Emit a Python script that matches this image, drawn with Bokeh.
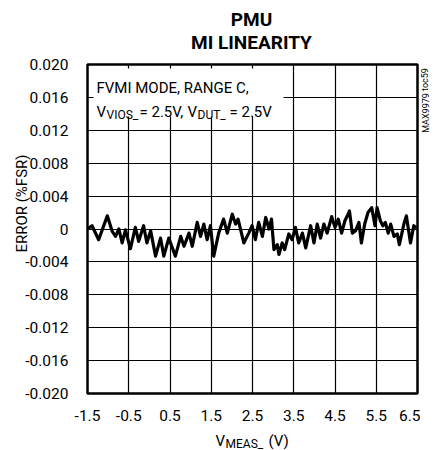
from bokeh.plotting import figure
from bokeh.models import FixedTicker, BoxAnnotation, Label, Title
from bokeh.layouts import column, row
from bokeh.embed import file_html
from bokeh.resources import INLINE

# ---- data ----
v_meas = [-1.50, -1.39, -1.23, -1.02, -0.90, -0.82, -0.74, -0.66, -0.58, -0.46,
          -0.34, -0.26, -0.14, -0.06, 0.03, 0.15, 0.27, 0.35, 0.47, 0.63,
          0.76, 0.84, 0.96, 1.04, 1.16, 1.24, 1.32, 1.40, 1.48, 1.56,
          1.68, 1.80, 1.89, 2.01, 2.09, 2.15, 2.29, 2.41, 2.49, 2.57,
          2.65, 2.74, 2.82, 2.90, 2.96, 3.02, 3.10, 3.14, 3.22, 3.28,
          3.38, 3.46, 3.54, 3.62, 3.71, 3.79, 3.91, 3.99, 4.07, 4.15,
          4.23, 4.31, 4.42, 4.50, 4.58, 4.66, 4.74, 4.80, 4.85, 4.92,
          5.00, 5.08, 5.14, 5.22, 5.30, 5.39, 5.47, 5.52, 5.60, 5.66,
          5.72, 5.79, 5.85, 5.93, 6.01, 6.06, 6.17, 6.23, 6.33, 6.41, 6.47]
error_fsr = [0.0000, 0.0004, -0.0013, 0.0016, -0.0003, -0.0009, 0.0000, -0.0017, -0.0001, -0.0024,
             0.0002, -0.0015, 0.0004, -0.0017, -0.0002, -0.0033, -0.0011, -0.0033, -0.0011, -0.0033,
             -0.0009, -0.0021, -0.0005, -0.0021, 0.0008, -0.0009, 0.0006, -0.0013, 0.0004, -0.0033,
             -0.0005, 0.0012, -0.0005, 0.0018, 0.0006, 0.0012, -0.0017, -0.0005, 0.0004, -0.0013,
             0.0008, -0.0009, 0.0014, 0.0000, 0.0012, -0.0025, -0.0019, -0.0031, -0.0017, -0.0025,
             -0.0006, -0.0013, 0.0002, -0.0017, -0.0005, -0.0023, 0.0004, -0.0017, 0.0006, -0.0011,
             0.0006, -0.0005, 0.0015, 0.0002, 0.0012, -0.0005, 0.0010, 0.0016, 0.0022, -0.0005,
             -0.0002, 0.0008, -0.0017, 0.0006, 0.0020, 0.0026, 0.0004, 0.0026, 0.0010, 0.0004,
             0.0008, -0.0005, 0.0006, -0.0009, -0.0006, -0.0019, 0.0006, 0.0016, -0.0017, 0.0004, 0.0001]

x_ticks = [-1.5, -0.5, 0.5, 1.5, 2.5, 3.5, 4.5, 5.5, 6.5]
y_ticks = [-0.020, -0.016, -0.012, -0.008, -0.004, 0.0, 0.004, 0.008, 0.012, 0.016, 0.020]
y_tick_labels = ["-0.020", "-0.016", "-0.012", "-0.008", "-0.004", "0",
                 "0.004", "0.008", "0.012", "0.016", "0.020"]

FONT = "Roboto"

TOTAL_H = 450
TOP_H, BOT_H = 54, 27
MAIN_H = TOTAL_H - TOP_H - BOT_H      # 369
MAIN_W, RIGHT_W = 420, 12
FL, FR = 87, 417                      # frame left / right (page px)
FT, FB = 64, 393                      # frame top / bottom (page px)
X0, X1, Y0, Y1 = -1.5, 6.5, -0.020, 0.020


def text_fig(w, h, left=0, right=0):
    f = figure(width=w, height=h, x_range=(0, w), y_range=(0, h),
               output_backend="svg", toolbar_location=None,
               x_axis_location=None, y_axis_location=None, min_border=0,
               min_border_left=left, min_border_right=right)
    f.grid.visible = False
    f.outline_line_color = None
    f.background_fill_color = "white"
    f.border_fill_color = "white"
    return f


def put(f, text, x, y, size, align="left", baseline="alphabetic", bold=False, angle=0):
    f.add_layout(Label(x=x, y=y, x_units="screen", y_units="screen",
                       text=text, text_font=FONT, text_font_size=size,
                       text_align=align, text_baseline=baseline,
                       text_font_style="bold" if bold else "normal",
                       text_color="black", angle=angle))


# ---------------- main plot ----------------
p = figure(width=MAIN_W, height=MAIN_H, x_range=(X0, X1), y_range=(Y0, Y1),
           output_backend="svg", toolbar_location=None,
           min_border_left=FL, min_border_right=MAIN_W - FR,
           min_border_top=FT - TOP_H, min_border_bottom=TOP_H + MAIN_H - FB)
p.background_fill_color = "white"
p.border_fill_color = "white"
p.outline_line_color = "black"
p.outline_line_width = 2.5

for ax in (p.xaxis[0], p.yaxis[0]):
    ax.axis_line_color = None
    ax.major_tick_line_color = None
    ax.minor_tick_line_color = None
    ax.major_label_text_font = FONT
    ax.major_label_text_font_size = "15.5px"
    ax.major_label_text_color = "black"

p.xaxis[0].ticker = FixedTicker(ticks=x_ticks)
p.yaxis[0].ticker = FixedTicker(ticks=y_ticks)
p.yaxis[0].major_label_overrides = {t: l for t, l in zip(y_ticks, y_tick_labels)}
p.xaxis[0].major_label_overrides = {t: ("%g" % t) for t in x_ticks}
p.xaxis[0].major_label_standoff = 10
p.yaxis[0].major_label_standoff = 13

p.add_layout(Title(text="ERROR (%FSR)", align="right", offset=90, standoff=-16,
                   text_font=FONT, text_font_style="normal", text_font_size="15px",
                   text_color="black"), "left")

p.xgrid[0].ticker = FixedTicker(ticks=x_ticks[1:-1])
p.ygrid[0].ticker = FixedTicker(ticks=y_ticks[1:-1])
for g in (p.xgrid[0], p.ygrid[0]):
    g.grid_line_color = "black"
    g.grid_line_width = 1.2


def xd(px):
    return X0 + (px - FL) * (X1 - X0) / (FR - FL)


def yd(py):
    return Y1 - (py - FT) * (Y1 - Y0) / (FB - FT)


# white box behind the annotation (drawn over the grid)
p.add_layout(BoxAnnotation(left=xd(93), right=xd(283), top=yd(68), bottom=yd(116),
                           fill_color="white", fill_alpha=1.0, line_color=None,
                           level="glyph"))

p.line(v_meas, error_fsr, line_color="black", line_width=3.2, line_join="round")


def lab(text, px, py, size):
    # screen units are measured from the frame's left / bottom edges
    put(p, text, px - FL, FB - py, size)


lab("FVMI MODE, RANGE C,", 96, 87, "15px")
lab("V", 96, 111, "15px")
lab("VIOS_", 106, 114, "12px")
lab("= 2.5V,", 139, 111, "15px")
lab("V", 187, 111, "15px")
lab("DUT_", 197, 114, "12px")
lab("= 2.5V", 229, 111, "15px")

# ---------------- title strip (frame aligned with the plot frame) ----------------
top = text_fig(MAIN_W, TOP_H, left=FL, right=MAIN_W - FR)
put(top, "PMU", 251 - FL, TOP_H - 19, "19px", align="center", baseline="middle", bold=True)
put(top, "MI LINEARITY", 251 - FL, TOP_H - 42, "19px", align="center", baseline="middle", bold=True)

# ---------------- x-axis title strip ----------------
bottom = text_fig(MAIN_W, BOT_H, left=FL, right=MAIN_W - FR)
put(bottom, "V", 215 - FL, TOTAL_H - 440, "15px")
put(bottom, "MEAS_", 225 - FL, TOTAL_H - 443, "12px")
put(bottom, "(V)", 268 - FL, TOTAL_H - 440, "15px")

# ---------------- right strip (figure id) ----------------
right = text_fig(RIGHT_W, TOTAL_H)
put(right, "MAX9979 toc59", 5, TOTAL_H - 100, "9px",
    align="center", baseline="middle", angle=1.5708)

layout = row(column(top, p, bottom, spacing=0), right, spacing=0)

open("out.html", "w").write(file_html(layout, INLINE))
